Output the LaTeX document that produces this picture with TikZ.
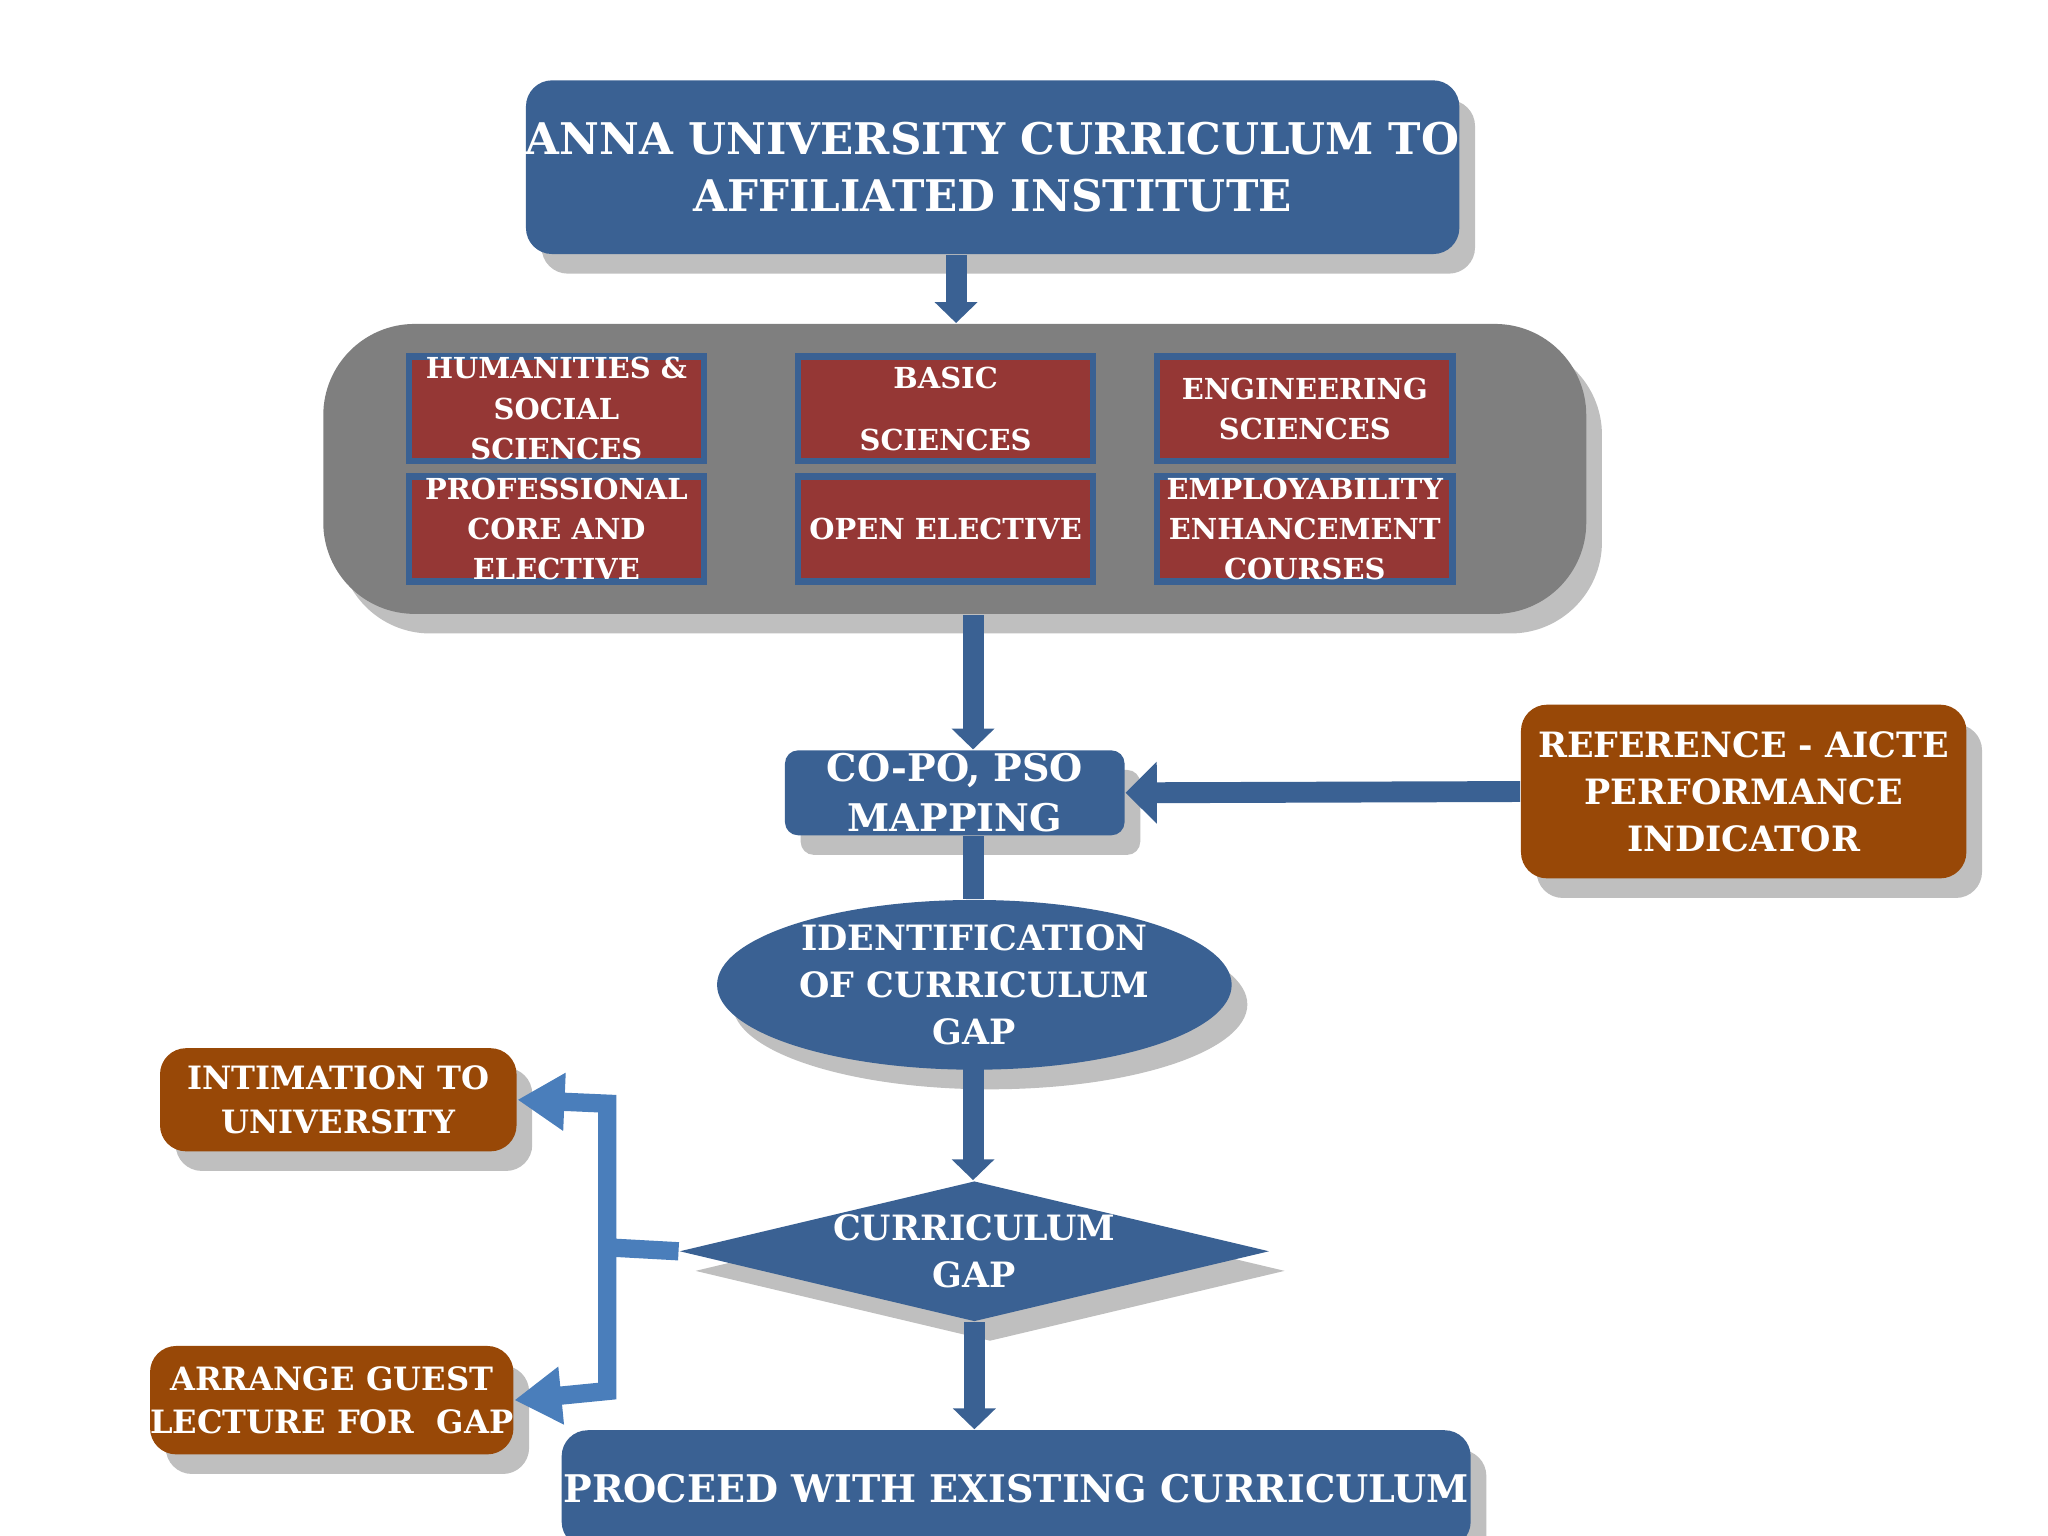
\documentclass[tikz,border=0pt]{standalone}
\usepackage{fontspec}
\setmainfont{DejaVu Serif}
\usetikzlibrary{shapes.geometric, arrows.meta, shadows}
\definecolor{dblue}{HTML}{3A6193}
\definecolor{lblue}{HTML}{4A7EBB}
\definecolor{dred}{HTML}{953735}
\definecolor{brown}{HTML}{984807}
\definecolor{grayb}{HTML}{7F7F7F}
\begin{document}
\begin{tikzpicture}[x=0.1mm, y=-0.1mm,
  shad/.style={drop shadow={shadow xshift=1.2mm, shadow yshift=-1.5mm, opacity=0.25, fill=black}},
  txt/.style={text=white, font=\bfseries, align=center, inner sep=0pt},
  bluebox/.style={shad, txt, fill=dblue, rounded corners=2mm},
  redbox/.style={txt, fill=dred, draw=dblue, line width=0.5mm, font=\bfseries\fontsize{6.3}{8.8}\selectfont,
    minimum width=22.6mm, minimum height=8mm},
  brownbox/.style={shad, txt, fill=brown, rounded corners=2mm},
  barrow/.style={draw=dblue, line width=1.6mm, -{Triangle[width=3.2mm, length=1.6mm, fill=dblue]}},
  larrow/.style={draw=lblue, line width=1.4mm, -{Triangle[width=4.2mm, length=3.6mm, fill=lblue]}}
]
\useasboundingbox (0,0) rectangle (1568,1176);

\node[bluebox, minimum width=66mm, minimum height=13.3mm, font=\bfseries\fontsize{9.5}{12.5}\selectfont]
  (top) at (760,128) {ANNA UNIVERSITY CURRICULUM TO\\AFFILIATED INSTITUTE};

\node[shad, fill=grayb, rounded corners=7mm, minimum width=96.7mm, minimum height=22.2mm] (grp) at (731,359) {};

\node[redbox] (hum) at (426,313) {HUMANITIES \&\\SOCIAL\\SCIENCES};
\node[redbox] (bas) at (724,313) {BASIC\\[1.6mm]SCIENCES};
\node[redbox] (eng) at (999,313) {ENGINEERING\\SCIENCES};
\node[redbox] (pro) at (426,405) {PROFESSIONAL\\CORE AND\\ELECTIVE};
\node[redbox] (ope) at (724,405) {OPEN ELECTIVE};
\node[redbox] (emp) at (999,405) {EMPLOYABILITY\\ENHANCEMENT\\COURSES};

\node[bluebox, rounded corners=1mm, minimum width=26mm, minimum height=6.5mm, font=\bfseries\fontsize{8.3}{11}\selectfont]
  (map) at (731,607) {CO-PO, PSO\\MAPPING};
\node[brownbox, minimum width=34.1mm, minimum height=13.3mm, font=\bfseries\fontsize{7.6}{10.2}\selectfont]
  (ref) at (1335,606) {REFERENCE - AICTE\\PERFORMANCE\\INDICATOR};
\node[shad, ellipse, fill=dblue, txt, minimum width=39.4mm, minimum height=11.2mm, font=\bfseries\fontsize{7.6}{10.2}\selectfont]
  (idn) at (746,754) {IDENTIFICATION\\OF CURRICULUM\\GAP};
\node[shad, diamond, aspect=4.2, fill=dblue, txt, minimum width=42.2mm, minimum height=10.1mm, font=\bfseries\fontsize{7.6}{10.2}\selectfont]
  (gap) at (746,958) {CURRICULUM\\GAP};
\node[bluebox, minimum width=69.6mm, minimum height=9mm, font=\bfseries\fontsize{8.3}{11}\selectfont]
  (proc) at (778,1140) {PROCEED WITH EXISTING CURRICULUM};
\node[brownbox, minimum width=27.3mm, minimum height=7.9mm, font=\bfseries\fontsize{7}{9.4}\selectfont]
  (int) at (259,842) {INTIMATION TO\\UNIVERSITY};
\node[brownbox, minimum width=27.3mm, minimum height=8.3mm, font=\bfseries\fontsize{7}{9.4}\selectfont]
  (arr) at (254,1072) {ARRANGE GUEST\\LECTURE FOR\ \ GAP};

\draw[barrow] (top.south -| 732,0) -- (grp.north -| 732,0);
\draw[barrow] (grp.south -| 745,0) -- (map.north -| 745,0);
\draw[draw=dblue, line width=1.6mm] (map.south -| 745,0) -- (idn.north -| 745,0);
\draw[barrow] (745,815) -- (gap.north -| 745,0);
\draw[barrow] (gap.south) -- (proc.north -| 746,0);
\draw[draw=dblue, line width=1.6mm, -{Triangle[width=4.6mm, length=2.4mm, fill=dblue]}] (ref.west) -- (map.east);
\coordinate (j) at (465,955);
\draw[larrow] (gap.west) -- (j) -- (465,845) -- (int.east);
\draw[larrow] (j) -- (465,1065) -- (arr.east);
\end{tikzpicture}
\end{document}
